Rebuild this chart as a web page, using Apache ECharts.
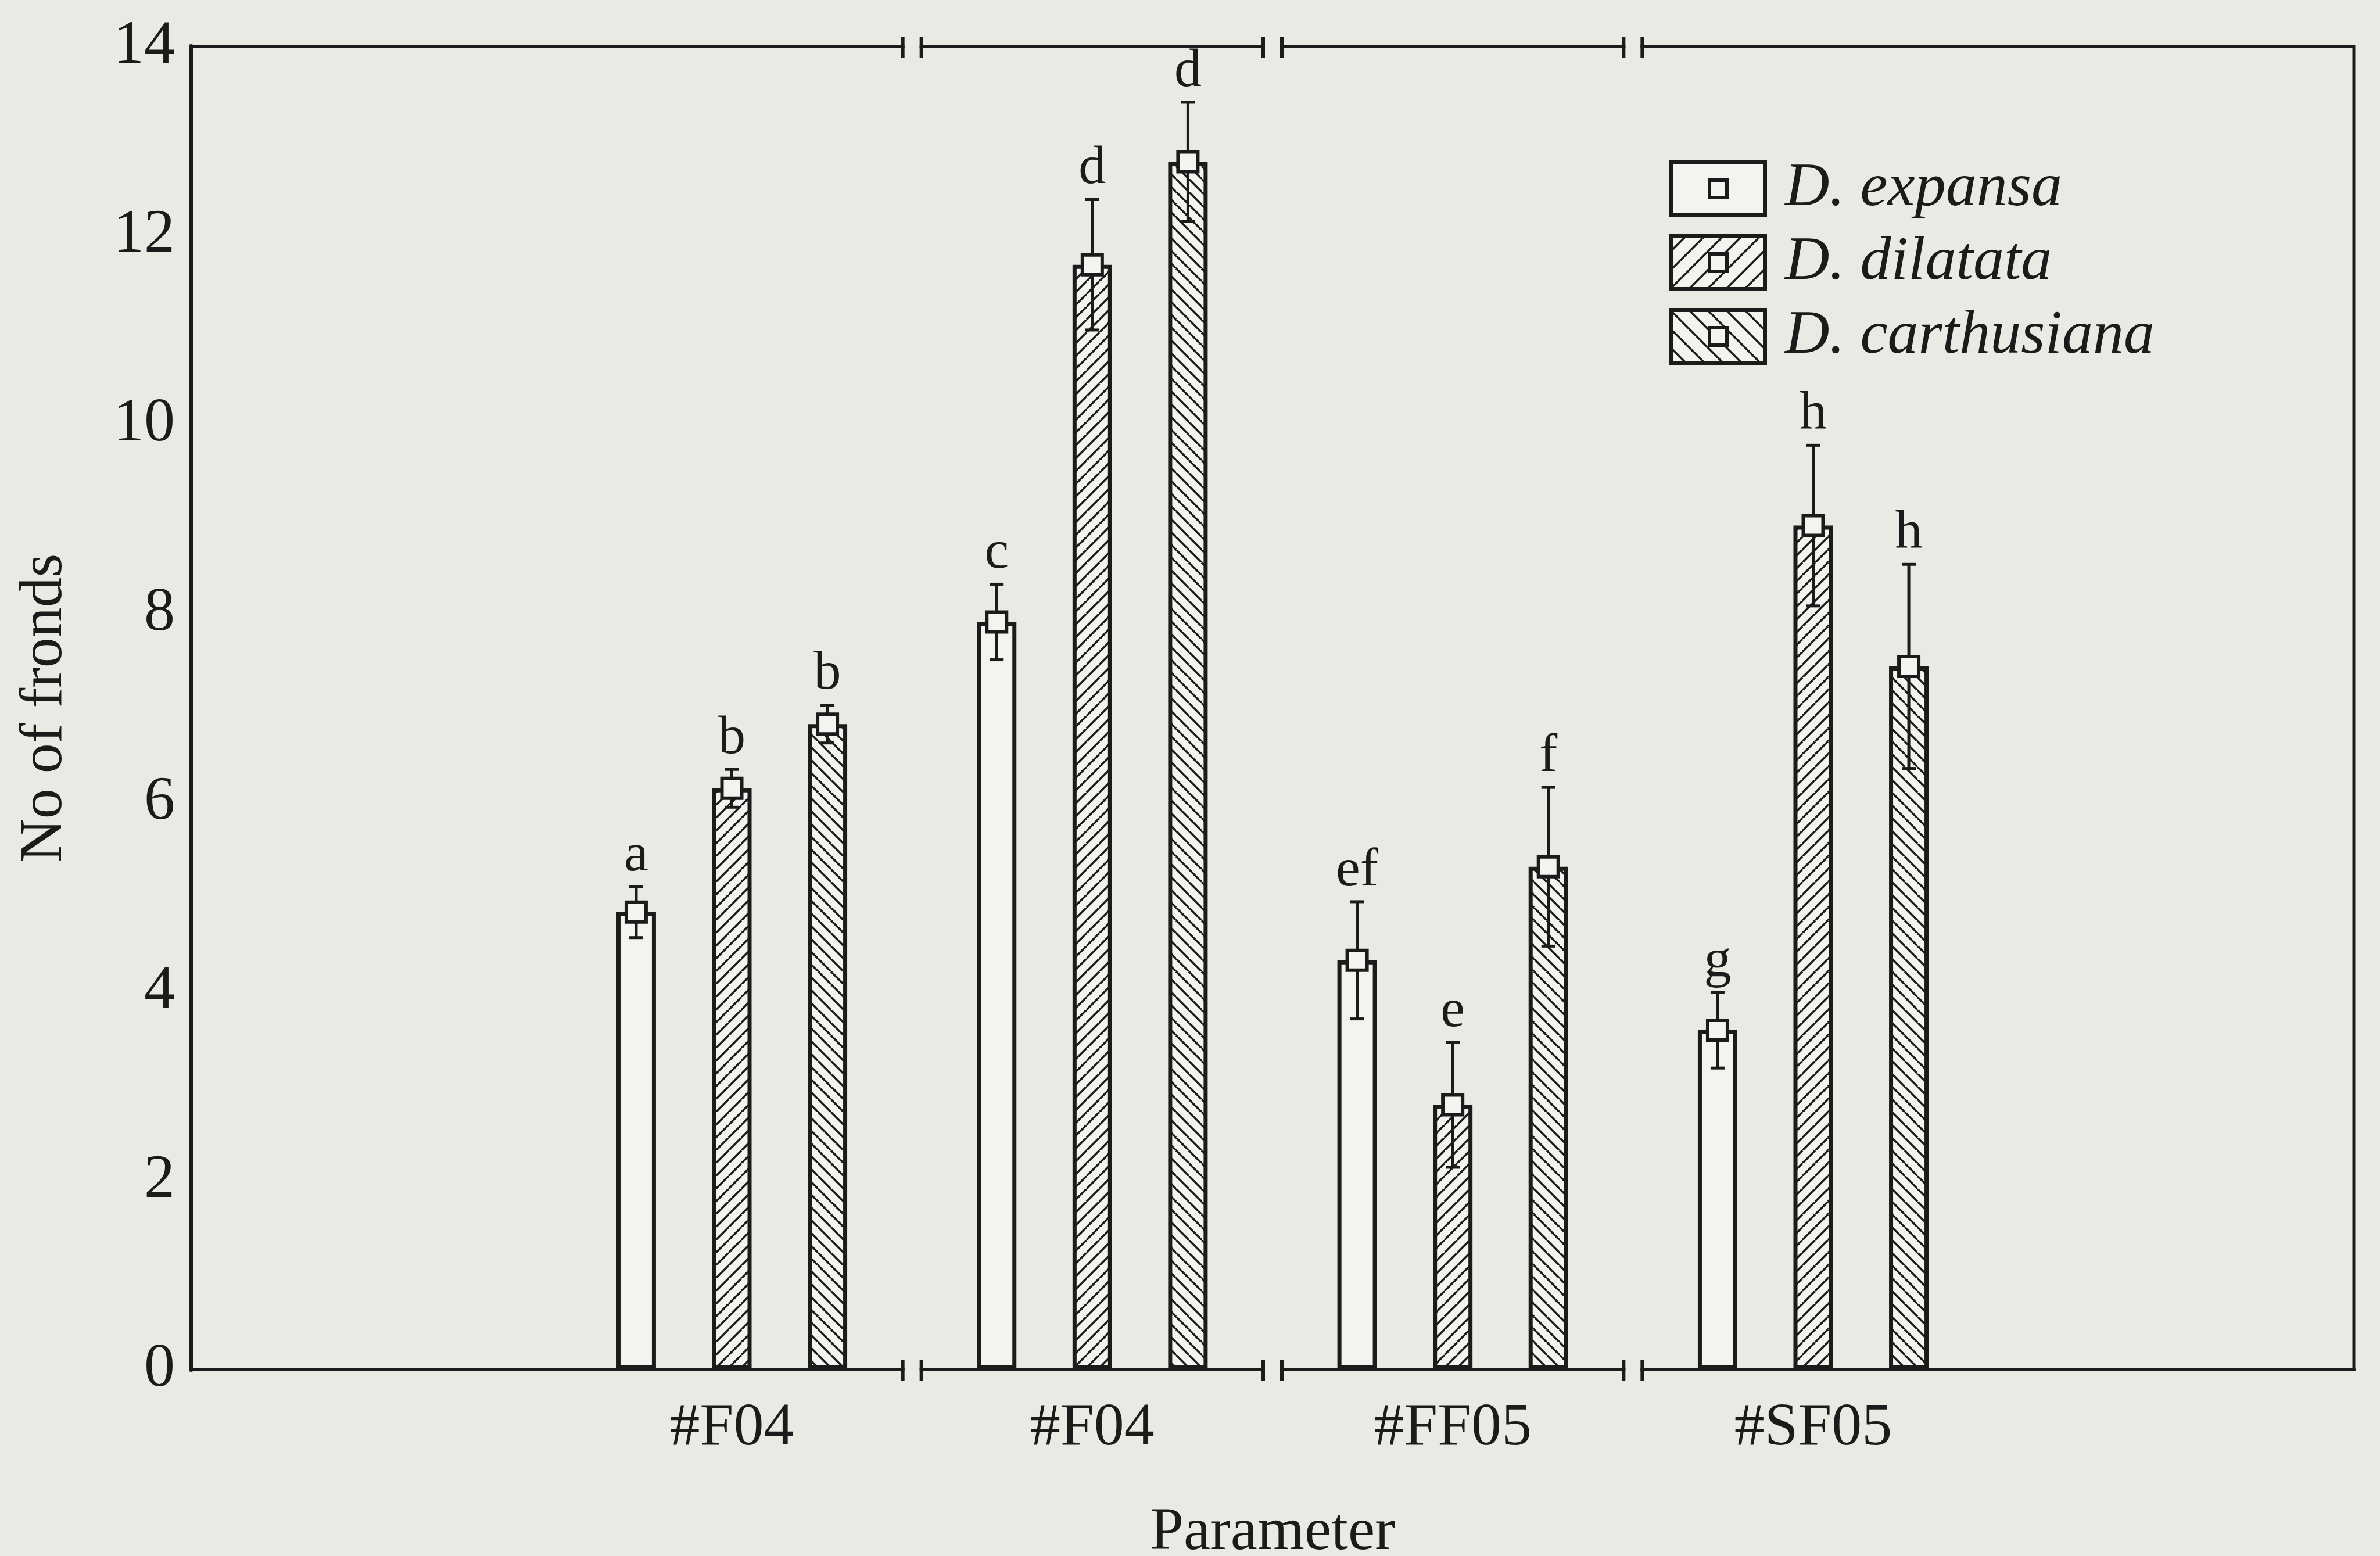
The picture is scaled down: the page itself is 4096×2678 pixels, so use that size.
<!DOCTYPE html>
<html>
<head>
<meta charset="utf-8">
<script src="https://cdn.jsdelivr.net/npm/echarts/dist/echarts.min.js"></script>
<style>
html, body { margin: 0; padding: 0; background: #e8ece5; }
#chart { width: 4096px; height: 2678px; }
</style>
</head>
<body>
<div id="chart"></div>
<script>
// ---------------- data ----------------
const categories = ['#F04', '#F04', '#FF05', '#SF05'];
const seriesNames = ['D. expansa', 'D. dilatata', 'D. carthusiana'];
const expansa = [4.84, 7.91, 4.33, 3.59];
const dilatata = [6.15, 11.69, 2.80, 8.93];
const carthusiana = [6.83, 12.78, 5.32, 7.44];
const expansaErr = [0.27, 0.40, 0.62, 0.40];
const dilatataErr = [0.20, 0.69, 0.66, 0.85];
const carthusianaErr = [0.20, 0.63, 0.84, 1.08];
const expansaLetters = ['a', 'c', 'ef', 'g'];
const dilatataLetters = ['b', 'd', 'e', 'h'];
const carthusianaLetters = ['b', 'd', 'f', 'h'];
const yMin = 0, yMax = 14, yStep = 2;

// ---------------- style ----------------
const BG = '#e7ebe4';
const PAPER = '#f2f4ef';
const INK = '#1b1b1b';
const FONT = '"Liberation Serif", "DejaVu Serif", serif';
const BAR_W = 68;
const BAR_GAP = 1.42;
const BAR_STEP = BAR_W * (1 + BAR_GAP);

function hatchTile(dir, s, lw) {
  const c = document.createElement('canvas');
  c.width = s; c.height = s;
  const g = c.getContext('2d');
  g.fillStyle = PAPER; g.fillRect(0, 0, s, s);
  g.strokeStyle = INK; g.lineWidth = lw;
  for (let k = -1; k <= 1; k++) {
    g.beginPath();
    if (dir === 'up') { g.moveTo(k * s, s); g.lineTo(k * s + s, 0); }
    else { g.moveTo(k * s, 0); g.lineTo(k * s + s, s); }
    g.stroke();
  }
  return c;
}

function legendIcon(dir) {
  const w = 168, h = 98;
  const c = document.createElement('canvas');
  c.width = w; c.height = h;
  const g = c.getContext('2d');
  g.fillStyle = PAPER; g.fillRect(0, 0, w, h);
  if (dir) {
    const sp = 32;
    g.strokeStyle = INK; g.lineWidth = 3.5;
    for (let x = -h; x < w + h; x += sp) {
      g.beginPath();
      if (dir === 'up') { g.moveTo(x, h); g.lineTo(x + h, 0); }
      else { g.moveTo(x, 0); g.lineTo(x + h, h); }
      g.stroke();
    }
  }
  g.strokeStyle = INK; g.lineWidth = 7;
  g.strokeRect(3.5, 3.5, w - 7, h - 7);
  const cx = w / 2, cy = h / 2, q = 15;
  g.fillStyle = PAPER; g.fillRect(cx - q, cy - q, 2 * q, 2 * q);
  g.lineWidth = 6; g.strokeRect(cx - q, cy - q, 2 * q, 2 * q);
  return 'image://' + c.toDataURL();
}

const fills = [
  PAPER,
  { image: hatchTile('up', 22, 3.5), repeat: 'repeat' },
  { image: hatchTile('down', 22, 3.5), repeat: 'repeat' }
];
const iconDirs = [null, 'up', 'down'];

const values = [expansa, dilatata, carthusiana];
const errors = [expansaErr, dilatataErr, carthusianaErr];
const letters = [expansaLetters, dilatataLetters, carthusianaLetters];
const axisCats = [''].concat(categories, ['']);

function errRenderer(k) {
  return function (params, api) {
    const idx = api.value(0);
    const v = api.value(1), e = api.value(2);
    const off = (k - 1) * BAR_STEP;
    const x = api.coord([idx, v])[0] + off;
    const ym = api.coord([idx, v])[1];
    const yt = api.coord([idx, v + e])[1];
    const yb = api.coord([idx, v - e])[1];
    const cap = 12, q = 17;
    const st = { stroke: INK, lineWidth: 5 };
    return {
      type: 'group',
      children: [
        { type: 'line', shape: { x1: x, y1: yt, x2: x, y2: yb }, style: st },
        { type: 'line', shape: { x1: x - cap, y1: yt, x2: x + cap, y2: yt }, style: st },
        { type: 'line', shape: { x1: x - cap, y1: yb, x2: x + cap, y2: yb }, style: st },
        { type: 'rect', shape: { x: x - q, y: ym - q, width: 2 * q, height: 2 * q },
          style: { fill: PAPER, stroke: INK, lineWidth: 6 } },
        { type: 'text', x: x, y: yt - 6,
          style: { text: letters[k][params.dataIndex], fill: INK, font: '94px ' + FONT,
                   align: 'center', verticalAlign: 'bottom' } }
      ]
    };
  };
}

function breakRenderer(params, api) {
  const idx = api.value(0);
  const band = api.size([1, 0])[0];
  const x = api.coord([idx, yMin])[0] + band / 2;
  const ys = [api.coord([idx, yMax])[1], api.coord([idx, yMin])[1]];
  const half = 16;
  const children = [];
  ys.forEach(function (y) {
    children.push({ type: 'rect', shape: { x: x - half + 3, y: y - 12, width: 2 * half - 6, height: 24 },
                    style: { fill: BG } });
    children.push({ type: 'line', shape: { x1: x - half, y1: y - 17, x2: x - half, y2: y + 19 },
                    style: { stroke: INK, lineWidth: 6 } });
    children.push({ type: 'line', shape: { x1: x + half, y1: y - 17, x2: x + half, y2: y + 19 },
                    style: { stroke: INK, lineWidth: 6 } });
  });
  return { type: 'group', children: children };
}

const series = [];
values.forEach(function (vals, k) {
  series.push({
    name: seriesNames[k],
    type: 'bar',
    barWidth: BAR_W,
    barGap: (BAR_GAP * 100) + '%',
    data: vals.map(function (v, i) { return [i + 1, v]; }),
    itemStyle: { color: fills[k], borderColor: INK, borderWidth: 7 },
    emphasis: { disabled: true },
    z: 2
  });
});
values.forEach(function (vals, k) {
  series.push({
    name: seriesNames[k] + ' err',
    type: 'custom',
    renderItem: errRenderer(k),
    data: vals.map(function (v, i) { return [i + 1, v, errors[k][i]]; }),
    z: 5,
    silent: true
  });
});
series.push({
  name: 'breaks',
  type: 'custom',
  renderItem: breakRenderer,
  data: [[1, 0], [2, 0], [3, 0]],
  z: 6,
  silent: true
});

const chart = echarts.init(document.getElementById('chart'), null, { renderer: 'canvas' });
chart.setOption({
  animation: false,
  backgroundColor: BG,
  textStyle: { fontFamily: FONT },
  grid: {
    left: 329, right: 45, top: 80, bottom: 321,
    show: true, borderColor: INK, borderWidth: 5, backgroundColor: 'transparent',
    containLabel: false, outerBoundsMode: 'none'
  },
  legend: {
    orient: 'vertical',
    left: 2868, top: 267,
    itemWidth: 168, itemHeight: 98, itemGap: 21,
    selectedMode: false,
    itemStyle: { borderWidth: 0 },
    textStyle: { fontFamily: FONT, fontStyle: 'italic', fontSize: 106, lineHeight: 104,
                 color: INK, padding: [0, 0, 0, 26] },
    data: seriesNames.map(function (n, k) { return { name: n, icon: legendIcon(iconDirs[k]) }; })
  },
  xAxis: {
    type: 'category',
    data: axisCats,
    axisLine: { show: true, lineStyle: { color: INK, width: 6 } },
    axisTick: { show: false },
    axisLabel: { interval: 0, fontSize: 104, lineHeight: 104, margin: 50, color: INK, fontFamily: FONT },
    splitLine: { show: false },
    name: 'Parameter',
    nameLocation: 'middle',
    nameGap: 230,
    nameTextStyle: { fontSize: 104, lineHeight: 104, color: INK, fontFamily: FONT }
  },
  yAxis: {
    type: 'value',
    min: yMin, max: yMax, interval: yStep,
    axisLine: { show: true, lineStyle: { color: INK, width: 8 } },
    axisTick: { show: false },
    splitLine: { show: false },
    axisLabel: { fontSize: 106, lineHeight: 104, margin: 28, color: INK, fontFamily: FONT },
    name: 'No of fronds',
    nameLocation: 'middle',
    nameGap: 199,
    nameTextStyle: { fontSize: 104, lineHeight: 104, color: INK, fontFamily: FONT }
  },
  series: series
});
</script>
</body>
</html>
